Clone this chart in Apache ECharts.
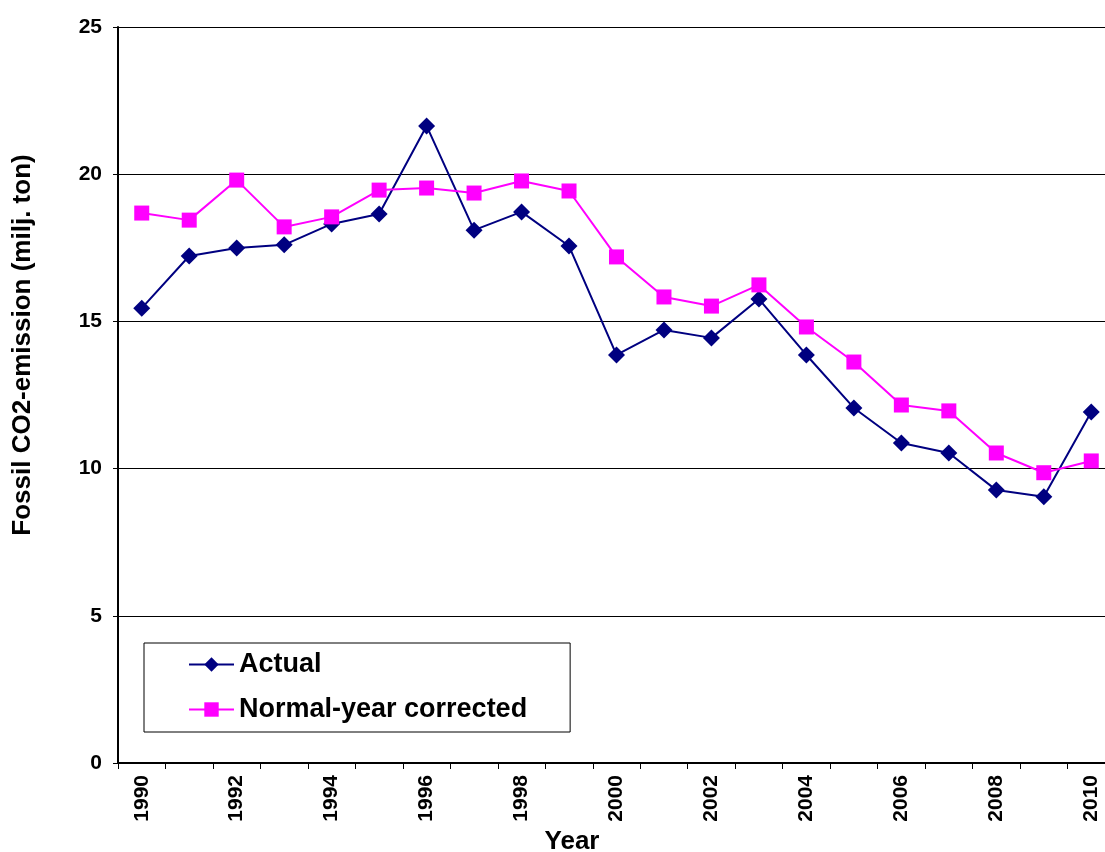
<!DOCTYPE html>
<html>
<head>
<meta charset="utf-8">
<script src="https://cdn.jsdelivr.net/npm/echarts@6/dist/echarts.min.js"></script>
<style>html,body{margin:0;padding:0;background:#fff;}#c{width:1105px;height:852px;}</style>
</head>
<body>
<div id="c"></div>
<script>
const years = ['1990','1991','1992','1993','1994','1995','1996','1997','1998','1999','2000','2001','2002','2003','2004','2005','2006','2007','2008','2009','2010'];
const actual = [15.45,17.22,17.49,17.6,18.31,18.65,21.64,18.1,18.72,17.56,13.86,14.71,14.44,15.76,13.86,12.06,10.87,10.53,9.27,9.04,11.92];
const corrected = [18.68,18.44,19.8,18.21,18.55,19.46,19.53,19.36,19.77,19.43,17.19,15.83,15.52,16.24,14.81,13.62,12.16,11.96,10.53,9.86,10.26];
const yTicks = [0,5,10,15,20,25];
const yTitle = 'Fossil CO2-emission (milj. ton)';
const xTitle = 'Year';

const font = 'Liberation Sans, Arial, sans-serif';
const chart = echarts.init(document.getElementById('c'), null, {renderer:'canvas'});
chart.setOption({
  animation:false,
  backgroundColor:'#fff',
  grid:{left:118, top:27, right:-10, bottom:89, containLabel:false, outerBoundsMode:'none'},
  legend:{
    orient:'vertical', left:144, top:643,
    padding:[8,43,9,44], itemGap:18,
    borderColor:'#000', borderWidth:1,
    itemWidth:45, itemHeight:18,
    textStyle:{fontFamily:font, fontWeight:'bold', fontSize:27, color:'#000'},
    data:['Actual','Normal-year corrected']
  },
  graphic:[
    {type:'text', x:23, y:345, rotation:Math.PI/2,
     style:{text:yTitle, font:'bold 26px ' + font, fill:'#000', align:'center', verticalAlign:'middle'}},
    {type:'text', x:572, y:842,
     style:{text:xTitle, font:'bold 26px ' + font, fill:'#000', align:'center', verticalAlign:'middle'}}
  ],
  xAxis:{
    type:'category', data:years, boundaryGap:true,
    axisLine:{lineStyle:{color:'#000', width:2}},
    axisTick:{show:true, alignWithLabel:false, interval:0, length:6, lineStyle:{color:'#000', width:1}},
    axisLabel:{interval:1, rotate:90, margin:12, fontFamily:font, fontWeight:'bold', fontSize:21, color:'#000'}
  },
  yAxis:{
    type:'value', min:yTicks[0], max:yTicks[yTicks.length-1], interval:5,
    axisLine:{show:true, lineStyle:{color:'#000', width:2}},
    axisTick:{show:true, length:5, lineStyle:{color:'#000', width:1}},
    axisLabel:{margin:16, fontFamily:font, fontWeight:'bold', fontSize:21, color:'#000'},
    splitLine:{show:true, lineStyle:{color:'#000', width:1}}
  },
  series:[
    {name:'Actual', type:'line', data:actual, symbol:'diamond', symbolSize:17,
     itemStyle:{color:'#000080'}, lineStyle:{color:'#000080', width:2}},
    {name:'Normal-year corrected', type:'line', data:corrected, symbol:'rect', symbolSize:15,
     itemStyle:{color:'#FF00FF'}, lineStyle:{color:'#FF00FF', width:2}}
  ]
});
</script>
</body>
</html>
